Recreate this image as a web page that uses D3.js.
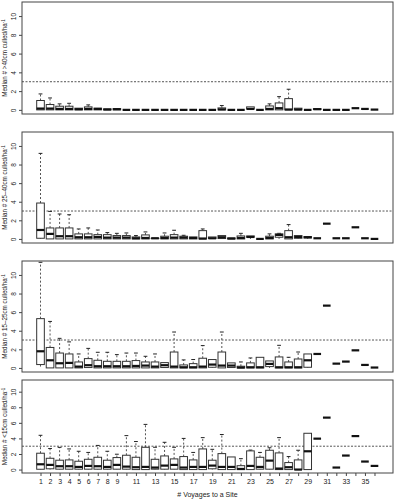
<!DOCTYPE html>
<html lang="en">
	<head>
		<meta charset="utf-8">
		<title>Median culled per hectare by voyages to a site</title>
		<script src="https://d3js.org/d3.v7.min.js"></script>
		<style type="text/css">
			body { margin: 0; background: #fff; }
			text { font-family: "Liberation Sans Narrow", "Liberation Sans", Arial, sans-serif; fill: #222; }
		</style>
	</head>
	<body>
		<script type="text/javascript">

			// Width and height
			var w = 395;
			var h = 500;

			// voyages 1..36
			var voyages = d3.range(1, 37);
			var xTickLabels = ["1","2","3","4","5","6","7","8","9","11","13","15","17","19","21","23","25","27","29","31","33","35"];
			var yTicks = [0, 2, 4, 6, 8, 10];
			var refLine = 3;

			// each row: [lower whisker, q1, median, q3, upper whisker]
			var gt40 = [
				[0,0,0.14,1.0,1.7],[0,0,0.14,0.57,1.27],[0,0,0.1,0.39,0.64],[0,0,0.1,0.39,0.7],
				[0,0,0.07,0.18,0.18],[0,0,0.1,0.32,0.53],[0,0,0.1,0.18,0.18],[0,0,0.04,0.1,0.1],
				[0,0,0.07,0.14,0.14],[0,0,0,0,0],[0,0,0,0,0],[0,0,0,0,0],
				[0,0,0,0,0],[0,0,0,0,0],[0,0,0,0,0],[0,0,0,0,0],
				[0,0,0,0,0],[0,0,0,0,0],[0,0,0,0,0],[0,0,0.05,0.21,0.46],
				[0,0,0,0,0],[0,0,0,0,0],[0,0.1,0.1,0.32,0.32],[0,0,0,0,0],
				[0,0,0.1,0.42,0.64],[0,0,0.18,0.74,1.41],[0,0,0.04,1.2,2.2],[0,0,0.04,0.18,0.18],
				[0,0,0,0,0],[0,0.04,0.07,0.14,0.14],[0,0,0,0,0],[0,0,0,0,0],
				[0,0,0,0,0],[0.18,0.18,0.18,0.18,0.18],[0.1,0.1,0.1,0.1,0.1],[0.03,0.03,0.03,0.03,0.03]
			];
			var s25to40 = [
				[0,0.07,0.96,3.86,9.2],[0,0,0.54,1.18,2.96],[0,0,0.29,1.18,2.68],[0,0,0.29,1.18,2.6],
				[0,0,0.18,0.54,1.07],[0,0,0.18,0.54,1.18],[0,0,0.21,0.46,0.96],[0,0,0.14,0.46,0.68],
				[0,0,0.14,0.36,0.6],[0,0,0.14,0.36,0.64],[0,0,0.07,0.21,0.36],[0,0,0.1,0.43,0.75],
				[0,0.04,0.07,0.07,0.07],[0,0,0.1,0.29,0.64],[0,0,0.14,0.46,0.93],[0,0,0.14,0.29,0.39],
				[0,0,0.1,0.21,0.21],[0,0,0.04,0.89,1.07],[0,0.04,0.07,0.21,0.21],[0,0.04,0.18,0.36,0.36],
				[0,0,0.04,0.1,0.1],[0,0,0.1,0.32,0.6],[0,0.18,0.21,0.32,0.32],[0,0,0,0,0],
				[0,0,0.1,0.29,0.54],[0,0.18,0.43,0.54,0.6],[0,0,0.18,0.89,1.54],[0,0.07,0.21,0.36,0.36],
				[0,0.1,0.18,0.25,0.25],[0.07,0.07,0.07,0.07,0.07],[1.64,1.64,1.64,1.64,1.64],[0.07,0.07,0.07,0.07,0.07],
				[0.07,0.07,0.07,0.07,0.07],[1.25,1.25,1.25,1.25,1.25],[0.07,0.07,0.07,0.07,0.07],[0,0,0,0,0]
			];
			var s15to25 = [
				[0,0.36,1.79,5.3,11.36],[0,0,0.82,2.2,5.0],[0,0,0.5,1.6,3.18],[0,0,0.54,1.5,2.8],
				[0,0,0.14,0.64,1.5],[0,0.04,0.29,1.0,2.1],[0,0,0.18,0.82,1.68],[0,0,0.18,0.71,1.68],
				[0,0,0.18,0.71,1.43],[0,0,0.18,0.71,1.6],[0,0,0.21,0.79,1.6],[0,0,0.25,0.64,1.25],
				[0,0,0.14,0.64,1.5],[0,0.04,0.29,0.57,0.57],[0,0,0.14,1.71,3.86],[0,0,0.07,0.32,0.86],
				[0,0,0.07,0.46,0.9],[0,0,0.14,1.04,2.4],[0,0.07,0.36,0.9,0.9],[0,0,0.25,1.71,3.86],
				[0,0.04,0.25,0.54,0.54],[0,0,0.04,0.18,0.64],[0,0,0.07,0.54,1.07],[0,0,0.07,1.14,1.14],
				[0,0.14,0.43,0.75,0.75],[0,0,0.07,1.18,2.43],[0,0,0.07,0.64,1.14],[0,0,0.07,0.96,1.71],
				[0,0.07,0.82,1.5,1.5],[1.5,1.5,1.5,1.5,1.5],[6.7,6.7,6.7,6.7,6.7],[0.46,0.46,0.46,0.46,0.46],
				[0.68,0.68,0.68,0.68,0.68],[1.89,1.89,1.89,1.89,1.89],[0.32,0.32,0.32,0.32,0.32],[0.04,0.04,0.04,0.04,0.04]
			];
			var lt15 = [
				[0,0.04,0.68,2.1,4.4],[0,0.1,0.6,1.45,2.7],[0,0.05,0.43,1.2,2.85],[0,0.05,0.43,1.24,2.65],
				[0,0.05,0.34,1.07,2.35],[0,0.05,0.47,1.32,2.2],[0,0.05,0.43,1.58,3.1],[0,0.05,0.34,1.2,2.35],
				[0,0.05,0.6,1.54,1.97],[0,0.05,0.38,1.84,4.36],[0,0,0.3,1.58,3.6],[0,0,0.34,2.86,5.8],
				[0,0.05,0.26,1.32,2.86],[0,0.05,0.51,1.75,3.5],[0,0.05,0.6,1.37,2.86],[0,0,0.26,1.67,4.0],
				[0,0,0.34,1.24,2.2],[0,0,0.34,2.65,4.1],[0,0.1,0.51,1.2,2.6],[0,0,0.34,2.05,4.5],
				[0,0,0.34,1.62,1.62],[0,0,0.08,0.5,1.4],[0,0,0.47,2.4,2.5],[0,0.05,0.34,1.58,2.2],
				[0,0.05,1.15,2.48,2.8],[0,0,0.13,2.14,4.1],[0,0,0.3,0.9,1.67],[0,0,0,1.24,2.48],
				[0,0,2.35,4.66,4.66],[3.97,3.97,3.97,3.97,3.97],[6.67,6.67,6.67,6.67,6.67],[0.26,0.26,0.26,0.26,0.26],
				[1.8,1.8,1.8,1.8,1.8],[4.3,4.3,4.3,4.3,4.3],[1.03,1.03,1.03,1.03,1.03],[0.47,0.47,0.47,0.47,0.47]
			];

			var panels = [
				{ data: gt40,    label: "Median # >40cm culled/ha", top: 2,   bottom: 114 },
				{ data: s25to40, label: "Median # 25\u201340cm culled/ha", top: 132, bottom: 243 },
				{ data: s15to25, label: "Median # 15\u201325cm culled/ha", top: 261, bottom: 372 },
				{ data: lt15,    label: "Median # <15cm culled/ha", top: 380, bottom: 473 }
			];

			var left = 22, right = 393;

			var x = d3.scaleLinear()
				.domain([-0.94, 37.94])
				.range([left, right]);

			var boxW = 0.8 * (x(1) - x(0));

			// Create SVG element
			var svg = d3.select("body")
				.append("svg")
				.attr("width", w)
				.attr("height", h);

			panels.forEach(function(p, pi) {

				var y = d3.scaleLinear()
					.domain([-0.44, 11.5])
					.range([p.bottom, p.top]);

				var g = svg.append("g");

				// y axis, labels turned like R's default
				var yAxis = d3.axisLeft(y)
					.tickValues(yTicks)
					.tickSize(3)
					.tickFormat(d3.format("d"));
				var ya = g.append("g")
					.attr("transform", "translate(" + left + ",0)")
					.call(yAxis);
				ya.select(".domain").remove();
				ya.selectAll(".tick line").attr("stroke", "#444");
				ya.selectAll(".tick text")
					.attr("x", 0).attr("dy", 0)
					.attr("transform", "translate(-6,0) rotate(-90)")
					.attr("text-anchor", "middle")
					.style("font-size", "6.5px")
					.style("font-family", "'Liberation Sans Narrow', 'Liberation Sans', Arial, sans-serif")
					.attr("fill", "#333");

				// y title with ha^-1
				var cy = (p.top + p.bottom) / 2;
				var t = g.append("text")
					.attr("transform", "translate(7," + cy + ") rotate(-90)")
					.attr("text-anchor", "middle")
					.style("font-size", "6.3px")
					.text(p.label);
				t.append("tspan").attr("dy", -2.5).style("font-size", "4.5px").text("-1");

				// reference line
				g.append("line")
					.attr("x1", left).attr("x2", right)
					.attr("y1", y(refLine)).attr("y2", y(refLine))
					.attr("stroke", "#555")
					.attr("stroke-width", 1)
					.attr("stroke-dasharray", "2,1.5");

				var groups = g.selectAll("g.box")
					.data(p.data)
					.enter()
					.append("g")
					.attr("class", "box")
					.attr("transform", function(d, i) { return "translate(" + x(voyages[i]) + ",0)"; });

				// whiskers
				groups.append("line")
					.attr("y1", function(d) { return y(d[3]); })
					.attr("y2", function(d) { return y(d[4]); })
					.attr("stroke", "#555")
					.attr("stroke-dasharray", "2,2");
				groups.append("line")
					.attr("y1", function(d) { return y(d[1]); })
					.attr("y2", function(d) { return y(d[0]); })
					.attr("stroke", "#555")
					.attr("stroke-dasharray", "2,2");
				// caps
				groups.filter(function(d) { return d[4] > d[3]; })
					.append("line")
					.attr("x1", -boxW / 4)
					.attr("x2", boxW / 4)
					.attr("y1", function(d) { return y(d[4]); })
					.attr("y2", function(d) { return y(d[4]); })
					.attr("stroke", "#222");

				// boxes
				groups.filter(function(d) { return d[3] > d[1]; })
					.append("rect")
					.attr("x", -boxW / 2)
					.attr("width", boxW)
					.attr("y", function(d) { return y(d[3]); })
					.attr("height", function(d) { return y(d[1]) - y(d[3]); })
					.attr("fill", "#fff")
					.attr("stroke", "#333")
					.attr("stroke-width", 1);

				// medians
				groups.append("line")
					.attr("x1", -boxW / 2)
					.attr("x2", boxW / 2)
					.attr("y1", function(d) { return y(d[2]); })
					.attr("y2", function(d) { return y(d[2]); })
					.attr("stroke", "#111")
					.attr("stroke-width", 2.2);

				// frame
				g.append("rect")
					.attr("x", left).attr("y", p.top)
					.attr("width", right - left).attr("height", p.bottom - p.top)
					.attr("fill", "none")
					.attr("stroke", "#444");

				// x axis on bottom panel only
				if (pi === panels.length - 1) {
					var xAxis = d3.axisBottom(x)
						.tickValues(voyages)
						.tickSize(3)
						.tickFormat(function(d) { return xTickLabels.indexOf(String(d)) >= 0 ? d : ""; });
					var xa = g.append("g")
						.attr("transform", "translate(0," + p.bottom + ")")
						.call(xAxis);
					xa.select(".domain").remove();
					xa.selectAll(".tick line").attr("stroke", "#444");
					xa.selectAll(".tick text")
						.attr("y", 6)
						.style("font-size", "7px")
						.style("font-family", "'Liberation Sans Narrow', 'Liberation Sans', Arial, sans-serif")
						.attr("fill", "#333");

					g.append("text")
						.attr("x", (left + right) / 2)
						.attr("y", 497)
						.attr("text-anchor", "middle")
						.style("font-size", "7px")
						.text("# Voyages to a Site");
				}
			});

		</script>
	</body>
</html>
